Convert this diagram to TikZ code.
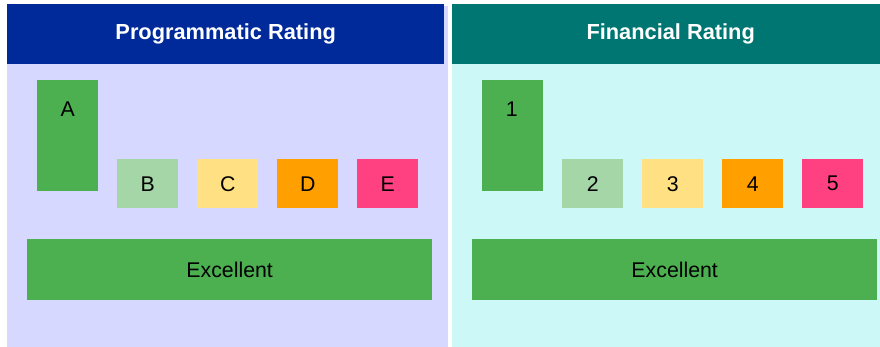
\documentclass[tikz,border=0pt]{standalone}
\usepackage{fontspec}
\setmainfont{Liberation Sans}
\usetikzlibrary{calc}
\definecolor{hblue}{HTML}{002A9A}
\definecolor{hteal}{HTML}{007672}
\definecolor{blav}{HTML}{D6D8FF}
\definecolor{bcyan}{HTML}{CCF8F8}
\definecolor{cgreen}{HTML}{4CAF50}
\definecolor{clgreen}{HTML}{A5D6A7}
\definecolor{cyellow}{HTML}{FFE082}
\definecolor{corange}{HTML}{FFA000}
\definecolor{cpink}{HTML}{FF4081}
\tikzset{
  txt/.style={font=\fontsize{21.3}{25}\selectfont},
  header/.style={font=\fontsize{21.8}{25}\selectfont\bfseries, text=white, minimum width=437, minimum height=60, anchor=north west, inner sep=0},
  body/.style={anchor=north west, inner sep=0},
  tall/.style={txt, minimum width=61, minimum height=111, anchor=north west, inner sep=0},
  small/.style={txt, minimum width=61, minimum height=49, anchor=north west, inner sep=0},
  wide/.style={txt, minimum width=405, minimum height=61, anchor=north west, inner sep=0},
  lbl/.style={txt, anchor=base, inner sep=0}
}
\begin{document}
\begin{tikzpicture}[x=1pt, y=-1pt]
\useasboundingbox[fill=white] (0,0) rectangle (880,347);
\begin{scope}
\clip (0,0) rectangle (880,347);
% panel bodies
\node[body, fill=blav, minimum width=441, minimum height=341] (b1) at (7,6) {};
\node[body, fill=bcyan, minimum width=437, minimum height=341] (b2) at (452,6) {};
% headers
\node[header, fill=hblue] (h1) at (7,4) {Programmatic Rating};
\node[header, fill=hteal] (h2) at (452,4) {Financial Rating};
% left panel boxes
\node[tall, fill=cgreen] (A) at (37,80) {};
\node[lbl] (Atext) at ($(A.north)+(0,37)$) {A};
\node[small, fill=clgreen] (B) at (117,159) {B};
\node[small, fill=cyellow] (C) at (197,159) {C};
\node[small, fill=corange] (D) at (277,159) {D};
\node[small, fill=cpink] (E) at (357,159) {E};
\node[wide, fill=cgreen] (ex1) at (27,239) {Excellent};
% right panel boxes
\node[tall, fill=cgreen] (R1) at (482,80) {};
\node[lbl] (R1text) at ($(R1.north)+(-1,37)$) {1};
\node[small, fill=clgreen] (R2) at (562,159) {2};
\node[small, fill=cyellow] (R3) at (642,159) {3};
\node[small, fill=corange] (R4) at (722,159) {4};
\node[small, fill=cpink] (R5) at (802,159) {5};
\node[wide, fill=cgreen] (ex2) at (472,239) {Excellent};
\end{scope}
\end{tikzpicture}
\end{document}
